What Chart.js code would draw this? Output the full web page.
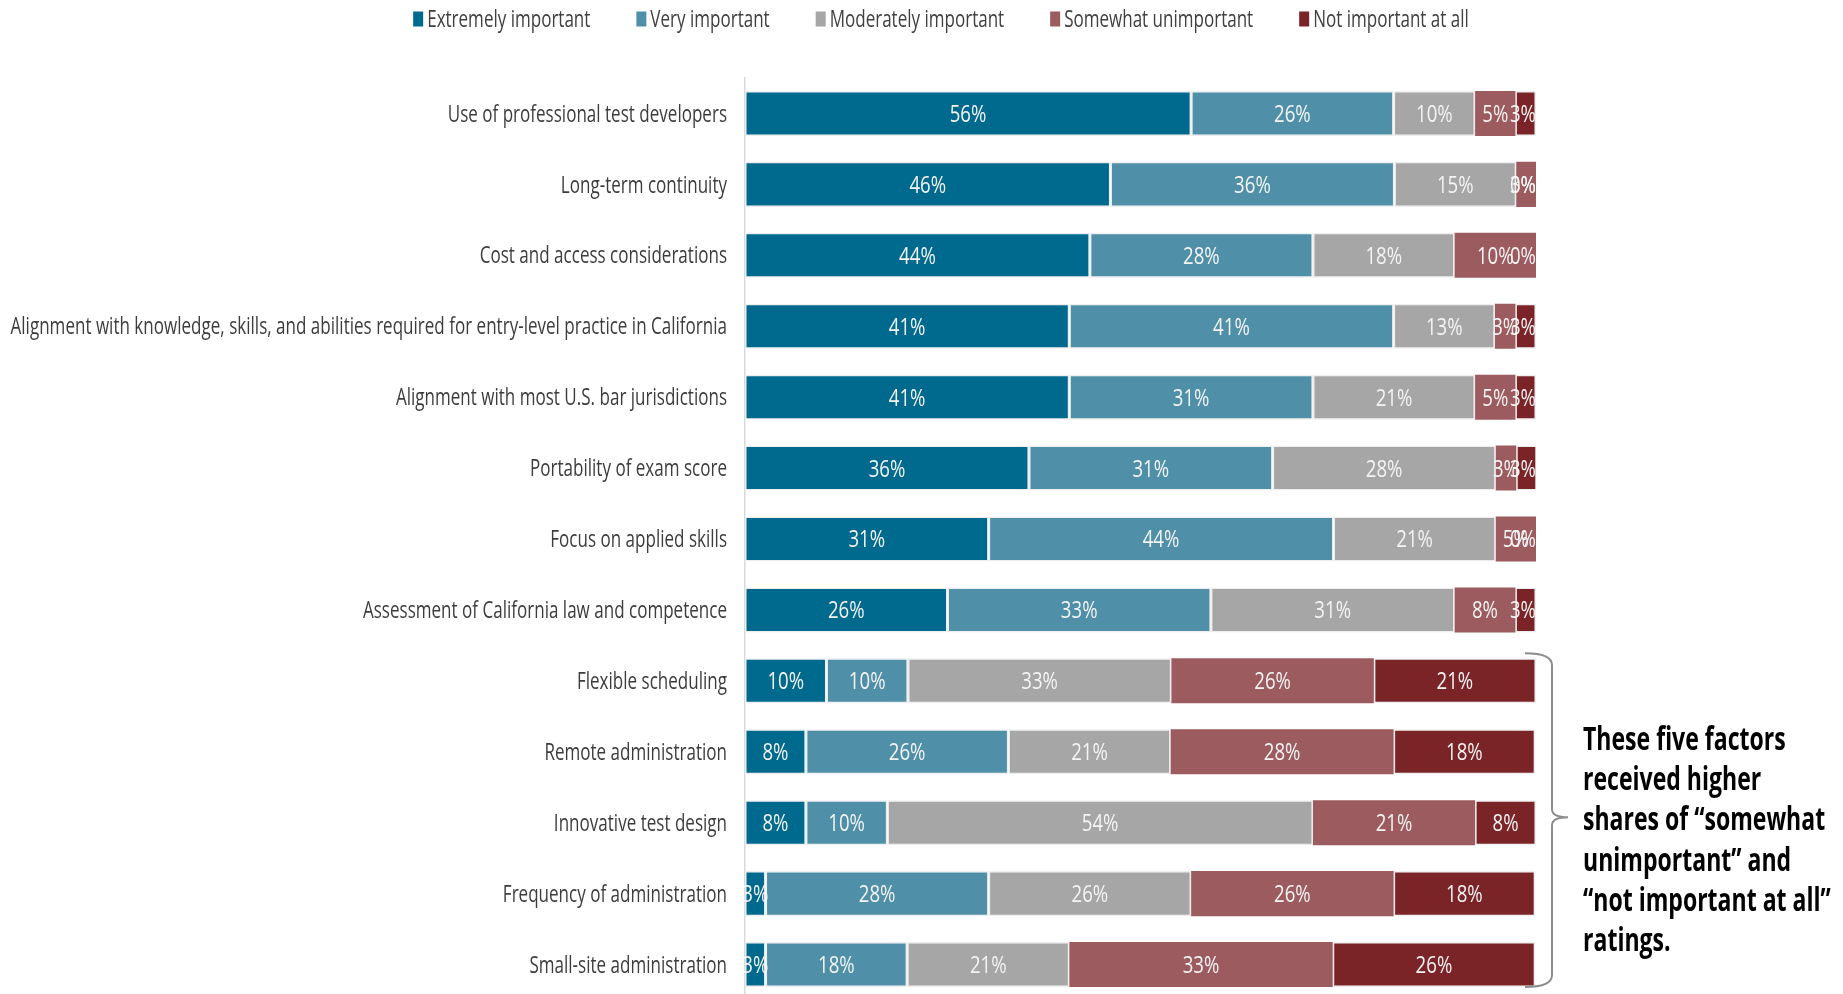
<!DOCTYPE html>
<html>
<head>
<meta charset="utf-8">
<title>Importance of exam factors</title>
<script src="https://cdn.jsdelivr.net/npm/chart.js@4.4.1/dist/chart.umd.min.js"></script>
<style>
  html, body { margin: 0; padding: 0; background: #ffffff; overflow: hidden; }
  #wrap { width: 1843px; height: 1000px; }
</style>
</head>
<body>
<div id="wrap"><canvas id="chart" width="1843" height="1000"></canvas></div>
<script>
// Factors rated, top to bottom
const categories = [
  "Use of professional test developers",
  "Long-term continuity",
  "Cost and access considerations",
  "Alignment with knowledge, skills, and abilities required for entry-level practice in California",
  "Alignment with most U.S. bar jurisdictions",
  "Portability of exam score",
  "Focus on applied skills",
  "Assessment of California law and competence",
  "Flexible scheduling",
  "Remote administration",
  "Innovative test design",
  "Frequency of administration",
  "Small-site administration"
];

const seriesNames = [
  "Extremely important",
  "Very important",
  "Moderately important",
  "Somewhat unimportant",
  "Not important at all"
];

// Share of respondents (%) per rating
const extremelyImportant  = [56.4, 46.2, 43.6, 41.0, 41.0, 35.9, 30.8, 25.6, 10.3, 7.7, 7.7, 2.6, 2.6];
const veryImportant       = [25.6, 35.9, 28.2, 41.0, 30.8, 30.8, 43.6, 33.3, 10.3, 25.6, 10.3, 28.2, 17.9];
const moderatelyImportant = [10.3, 15.4, 17.9, 12.8, 20.5, 28.2, 20.5, 30.8, 33.3, 20.5, 53.8, 25.6, 20.5];
const somewhatUnimportant = [5.1, 2.6, 10.3, 2.6, 5.1, 2.6, 5.1, 7.7, 25.6, 28.2, 20.5, 25.6, 33.3];
const notImportantAtAll   = [2.6, 0.0, 0.0, 2.6, 2.6, 2.6, 0.0, 2.6, 20.5, 17.9, 7.7, 17.9, 25.6];

const seriesColors = ["#006a8e", "#4f90a8", "#a6a6a6", "#9c5b5f", "#7b2428"];
const noteLines = [
  "These five factors",
  "received higher",
  "shares of \u201csomewhat",
  "unimportant\u201d and",
  "\u201cnot important at all\u201d",
  "ratings."
];
const bracketFirst = 8;   // first highlighted category index
const bracketLast = 12;   // last highlighted category index

const FONT = "'Open Sans', 'Noto Sans', sans-serif";
const SX = 0.74;          // horizontal squeeze applied to all text (narrow face look)
const LABEL_SX = 0.76;    // squeeze for the in-bar percentages
const allSeries = [extremelyImportant, veryImportant, moderatelyImportant, somewhatUnimportant, notImportantAtAll];

const datasets = allSeries.map((vals, i) => ({
  label: seriesNames[i],
  data: vals,
  backgroundColor: seriesColors[i],
  borderColor: i === 3 ? seriesColors[i] : "rgba(236,236,236,0.9)",
  borderWidth: i === 3 ? 0 : 1.5,
  borderSkipped: false,
  categoryPercentage: 0.635,
  barPercentage: 1.0
}));

// Draw text squeezed horizontally around its anchor point
function narrowText(ctx, text, x, y, sx) {
  ctx.save();
  ctx.translate(x, y);
  ctx.scale(sx, 1);
  ctx.fillText(text, 0, 0);
  ctx.restore();
}

// Percentage labels centred in each segment, kept inside the plot on the right
const segmentLabels = {
  id: "segmentLabels",
  afterDatasetsDraw(chart) {
    const ctx = chart.ctx;
    const right = chart.chartArea.right;
    ctx.save();
    ctx.font = "24.5px " + FONT;
    ctx.fillStyle = "#f4f4f4";
    ctx.textAlign = "center";
    ctx.textBaseline = "middle";
    chart.data.datasets.forEach((ds, di) => {
      const meta = chart.getDatasetMeta(di);
      meta.data.forEach((bar, idx) => {
        const text = Math.round(ds.data[idx]) + "%";
        const w = ctx.measureText(text).width * LABEL_SX;
        const cx = Math.min((bar.x + bar.base) / 2, right - w / 2);
        narrowText(ctx, text, cx, bar.y + 1.5, LABEL_SX);
      });
    });
    ctx.restore();
  }
};

// Legend row across the top
const topLegend = {
  id: "topLegend",
  afterDraw(chart) {
    const ctx = chart.ctx;
    ctx.save();
    ctx.font = "23px " + FONT;
    ctx.textBaseline = "middle";
    ctx.textAlign = "left";
    const boxW = 10, boxH = 15, gap = 4, itemGap = 46;
    const widths = seriesNames.map(n => boxW + gap + ctx.measureText(n).width * SX);
    const total = widths.reduce((a, b) => a + b, 0) + itemGap * (seriesNames.length - 1);
    let x = 941 - total / 2;
    const cy = 19;
    seriesNames.forEach((n, i) => {
      ctx.fillStyle = seriesColors[i];
      ctx.fillRect(x, cy - boxH / 2, boxW, boxH);
      ctx.fillStyle = "#404040";
      narrowText(ctx, n, x + boxW + gap, cy + 1, SX);
      x += widths[i] + itemGap;
    });
    ctx.restore();
  }
};

// Brace and note beside the highlighted factors
const braceNote = {
  id: "braceNote",
  afterDraw(chart) {
    const ctx = chart.ctx;
    const yScale = chart.scales.y;
    const half = (yScale.getPixelForValue(1) - yScale.getPixelForValue(0)) * 0.635 / 2;
    const top = yScale.getPixelForValue(bracketFirst) - half - 5;
    const bottom = yScale.getPixelForValue(bracketLast) + half;
    const mid = (top + bottom) / 2 - 3;
    const xl = chart.chartArea.right - 11;
    const xv = chart.chartArea.right + 16;
    const xt = xv + 16;
    const r = 12;
    ctx.save();
    ctx.strokeStyle = "#8c8c8c";
    ctx.lineWidth = 2;
    ctx.beginPath();
    ctx.moveTo(xl, top);
    ctx.quadraticCurveTo(xv, top, xv, top + r);
    ctx.lineTo(xv, mid - 8);
    ctx.quadraticCurveTo(xv, mid, xt, mid);
    ctx.quadraticCurveTo(xv, mid, xv, mid + 8);
    ctx.lineTo(xv, bottom - r);
    ctx.quadraticCurveTo(xv, bottom, xl, bottom);
    ctx.stroke();

    ctx.fillStyle = "#000000";
    ctx.font = "bold 32px " + FONT;
    ctx.textAlign = "left";
    ctx.textBaseline = "alphabetic";
    noteLines.forEach((line, i) => {
      narrowText(ctx, line, 1583, 750 + i * 40.2, 0.72);
    });
    ctx.restore();
  }
};

new Chart(document.getElementById("chart"), {
  type: "bar",
  data: { labels: categories, datasets },
  options: {
    indexAxis: "y",
    responsive: false,
    animation: false,
    devicePixelRatio: 1,
    layout: { padding: { top: 78, left: 0, right: 307, bottom: 0 } },
    plugins: {
      legend: { display: false },
      tooltip: { enabled: false }
    },
    scales: {
      x: {
        stacked: true,
        min: 0,
        max: 100,
        display: false
      },
      y: {
        stacked: true,
        grid: { display: false, drawTicks: false },
        border: { display: true, color: "#d9d9d9", width: 1.5 },
        ticks: {
          color: "#3c3c3c",
          padding: 18,
          font: { family: FONT, size: 23.5 }
        },
        afterFit(scale) {
          scale.width = 745;
          scale.paddingTop = 0;
          scale.paddingBottom = 0;
          if (!scale._narrowLabels) {
            const drawLabels = scale.drawLabels;
            scale.drawLabels = function (area) {
              const ctx = this.ctx;
              const ax = this.right - this.options.ticks.padding;
              const left = this.left;
              // widen the label clip so the squeezed long labels are not cut
              this.left = -4000;
              ctx.save();
              ctx.translate(ax, 1.5);
              ctx.scale(0.725, 1);
              ctx.translate(-ax, 0);
              drawLabels.call(this, area);
              ctx.restore();
              this.left = left;
            };
            scale._narrowLabels = true;
          }
        }
      }
    }
  },
  plugins: [segmentLabels, topLegend, braceNote]
});
</script>
</body>
</html>
